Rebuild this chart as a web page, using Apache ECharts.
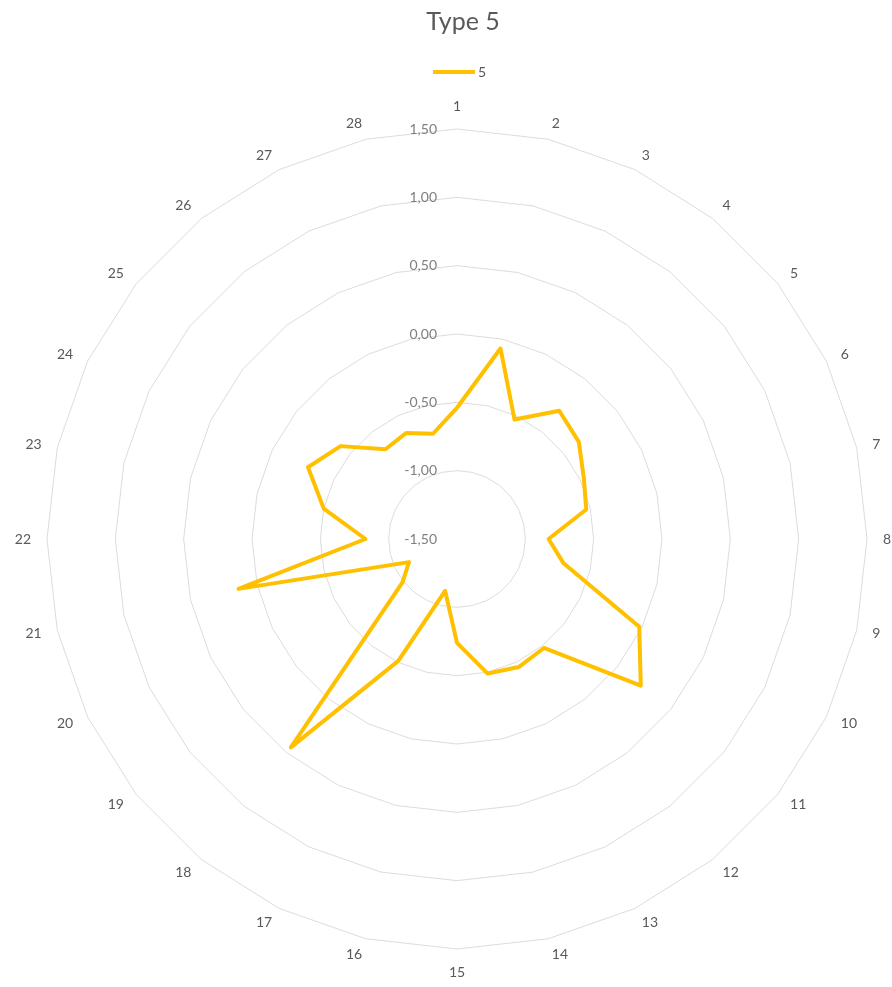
<!DOCTYPE html>
<html>
<head>
<meta charset="utf-8">
<script src="https://cdn.jsdelivr.net/npm/echarts@6/dist/echarts.min.js"></script>
<style>
  html, body { margin: 0; padding: 0; background: #fff; }
  #main { width: 892px; height: 987px; }
</style>
</head>
<body>
<div id="main"></div>
<script>
// categories around the radar (1..28), clockwise from the top
var categories = ['1', '2', '3', '4', '5', '6', '7', '8', '9', '10', '11', '12', '13', '14',
    '15', '16', '17', '18', '19', '20', '21', '22', '23', '24', '25', '26', '27', '28'];

// series "5"
var values5 = [-0.54, -0.07, -0.53, -0.30, -0.36, -0.47, -0.53, -0.83, -0.70, -0.02,
    0.22, -0.48, -0.46, -0.49, -0.74, -1.11, -0.51, 0.45, -0.99, -1.11,
    0.14, -0.83, -0.50, -0.29, -0.41, -0.66, -0.64, -0.71];

var axisMin = -1.5;
var axisMax = 1.5;

var fontFam = 'Lato, "Noto Sans", sans-serif';
var grey = '#595959';

// echarts radar runs counter-clockwise, so keep the first item and reverse the rest
function clockwise(arr) {
    return [arr[0]].concat(arr.slice(1).reverse());
}

var indicators = clockwise(categories).map(function (c, i) {
    var ind = { name: c, min: axisMin, max: axisMax };
    if (i === 0) {
        // only the first spoke carries the value labels
        ind.axisLabel = {
            show: true,
            color: '#7f7f7f',
            fontSize: 14,
            fontFamily: fontFam,
            margin: 20,
            formatter: function (v) {
                return v.toFixed(2).replace('.', ',');
            }
        };
    }
    return ind;
});

var chart = echarts.init(document.getElementById('main'));

chart.setOption({
    backgroundColor: '#fff',
    title: {
        text: 'Type 5',
        left: 458,
        textAlign: 'center',
        top: 4,
        textStyle: { color: grey, fontSize: 25, fontWeight: 'normal', fontFamily: fontFam }
    },
    legend: {
        top: 60,
        left: 428,
        icon: 'rect',
        itemWidth: 42,
        itemHeight: 4,
        itemGap: 4,
        textStyle: { color: grey, fontSize: 14, fontFamily: fontFam, padding: [0, 0, 0, -2] },
        data: ['5']
    },
    radar: {
        center: [457, 539],
        radius: 410,
        shape: 'polygon',
        splitNumber: 6,
        nameGap: 16,
        axisName: { color: grey, fontSize: 14, fontFamily: fontFam },
        axisLine: { show: false },
        axisTick: { show: false },
        axisLabel: { show: false },
        splitLine: { lineStyle: { color: '#dcdcdc', width: 1 } },
        splitArea: { show: false },
        indicator: indicators
    },
    series: [{
        name: '5',
        type: 'radar',
        symbol: 'none',
        lineStyle: { color: '#FFC000', width: 4 },
        itemStyle: { color: '#FFC000' },
        data: [{ name: '5', value: clockwise(values5) }]
    }]
});
</script>
</body>
</html>
